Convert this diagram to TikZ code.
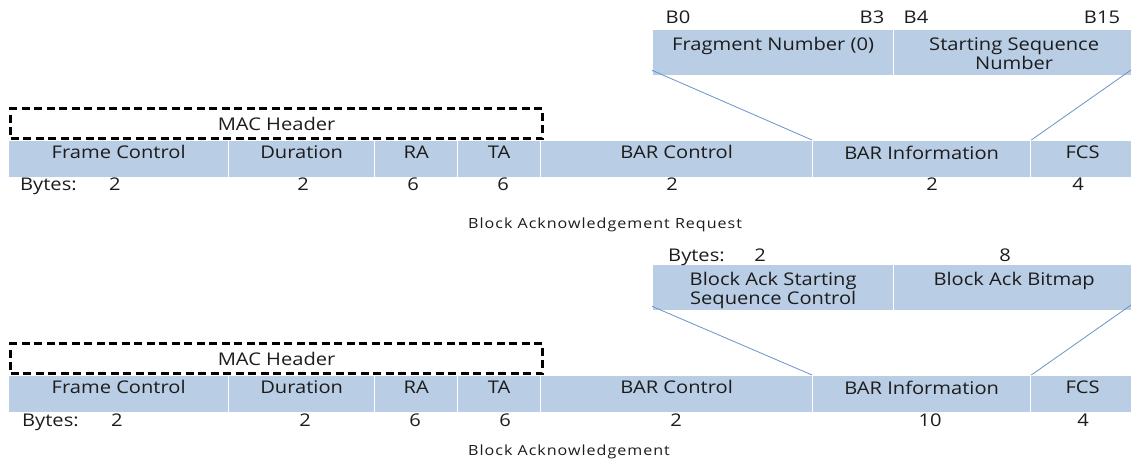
\documentclass[tikz,border=0pt]{standalone}
\usepackage{fontspec}
\setmainfont[FakeStretch=1.15]{Open Sans}
\newfontfamily\capfont[FakeStretch=1.15, LetterSpace=7]{Open Sans}
\usetikzlibrary{positioning}

\definecolor{fieldblue}{HTML}{B9CDE5}
\definecolor{zoomblue}{HTML}{6A92C6}
\definecolor{inkgray}{HTML}{1C1C1C}

\tikzset{
  field/.style={fill=fieldblue, draw=white, line width=1.3pt, anchor=north west,
    inner sep=0pt, minimum height=37pt},
  subfield/.style={field, minimum height=46pt},
  ftext/.style={anchor=north, inner sep=0pt, text=inkgray, align=center,
    font=\fontsize{17.5}{19}\selectfont},
  num/.style={anchor=base, inner sep=0pt, text=inkgray, font=\fontsize{17.5}{19}\selectfont},
  hdr/.style={draw=black, line width=2.6pt, dash pattern=on 8pt off 4.5pt,
    anchor=north west, inner sep=0pt, text=inkgray, font=\fontsize{17.5}{19}\selectfont},
  zoom/.style={draw=zoomblue, line width=0.8pt},
  caption/.style={anchor=base west, inner sep=0pt, text=inkgray, font=\capfont\fontsize{14}{16}\selectfont}
}

\begin{document}
\begin{tikzpicture}[x=1pt, y=-1pt]
  \useasboundingbox (0,0) rectangle (1131,462);

  % BlockAckReq frame
  \foreach \n/\a/\b/\t in {fc/8/228/Frame Control, du/228/374/Duration, ra/374/457/RA,
      ta/457/540/TA, bc/540/812/BAR Control, bi/812/1030/BAR Information, fcs/1030/1134/FCS}
  {
    \node[field, minimum width=\b-\a] (req-\n) at (\a,140) {};
    \node[ftext] (req-\n-t) at ([yshift=-5.5pt]req-\n.north) {\t};
  }
  \node[hdr, minimum width=532, minimum height=30] (req-mac) at (9.3,107.3) {MAC Header};
  \node[num, anchor=base west] (req-by) at (20,191) {Bytes:};
  \foreach \n/\x/\v in {fc/115/2, du/303/2, ra/413/6, ta/503/6, bc/672/2, bi/932/2, fcs/1078/4}
    \node[num] (req-\n-b) at (\x,191) {\v};

  % BAR information subfields
  \node[subfield, minimum width=241] (req-fn) at (652,29) {};
  \node[ftext] (req-fn-t) at ([yshift=-8pt]req-fn.north) {Fragment Number (0)};
  \node[subfield, minimum width=241] (req-ssn) at (893,29) {};
  \node[ftext] (req-ssn-t) at ([yshift=-8pt]req-ssn.north) {Starting Sequence\\Number};
  \foreach \n/\x/\v in {b0/678/B0, b3/872/B3, b4/916/B4, b15/1102/B15}
    \node[num] (req-\n) at (\x,24) {\v};
  \draw[zoom] ([yshift=6pt]req-fn.south west) -- (req-bi.north west);
  \draw[zoom] (1131,70) coordinate (req-r) -- (req-bi.north east);
  \node[caption] (req-cap) at (468,229) {Block Acknowledgement Request};

  % BlockAck frame
  \begin{scope}[yshift=-235pt]
    \foreach \n/\a/\b/\t in {fc/8/228/Frame Control, du/228/374/Duration, ra/374/457/RA,
        ta/457/540/TA, bc/540/812/BAR Control, bi/812/1030/BAR Information, fcs/1030/1134/FCS}
    {
      \node[field, minimum width=\b-\a] (ba-\n) at (\a,140) {};
      \node[ftext] (ba-\n-t) at ([yshift=-5.5pt]ba-\n.north) {\t};
    }
    \node[hdr, minimum width=532, minimum height=30] (ba-mac) at (9.3,107.3) {MAC Header};
    \node[num, anchor=base west] (ba-by) at (22,191) {Bytes:};
    \foreach \n/\x/\v in {fc/117/2, du/305/2, ra/415/6, ta/505/6, bc/676/2, bi/930/10, fcs/1083/4}
      \node[num] (ba-\n-b) at (\x,191) {\v};

    \node[subfield, minimum width=241] (ba-ssc) at (652,29) {};
    \node[ftext] (ba-ssc-t) at ([yshift=-8pt]ba-ssc.north) {Block Ack Starting\\Sequence Control};
    \node[subfield, minimum width=241] (ba-bm) at (893,29) {};
    \node[ftext] (ba-bm-t) at ([yshift=-8pt]ba-bm.north) {Block Ack Bitmap};
    \node[num, anchor=base west] (ba-sby) at (668,26) {Bytes:};
    \node[num] (ba-ssc-b) at (760,26) {2};
    \node[num] (ba-bm-b) at (1005,26) {8};
    \draw[zoom] ([yshift=5pt]ba-ssc.south west) -- (ba-bi.north west);
    \draw[zoom] (1131,70) coordinate (ba-r) -- (ba-bi.north east);
    \node[caption] (ba-cap) at (468,220) {Block Acknowledgement};
  \end{scope}
\end{tikzpicture}
\end{document}
